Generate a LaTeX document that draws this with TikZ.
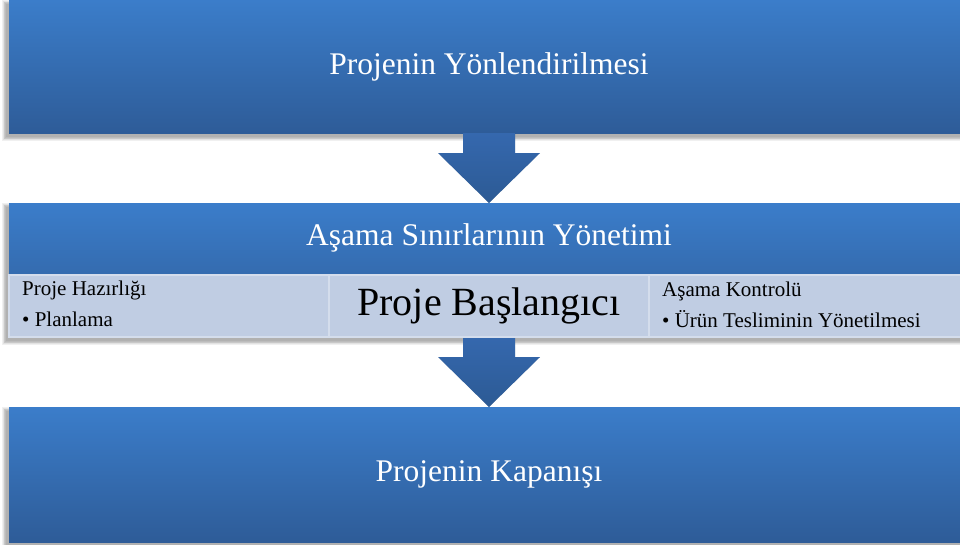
\documentclass[tikz,border=0pt]{standalone}
\usepackage{fontspec}
\setmainfont{Liberation Serif}
\usetikzlibrary{calc}

\definecolor{bandtop}{HTML}{3B7DCA}
\definecolor{bandbot}{HTML}{2E5C98}
\definecolor{arrowtop}{HTML}{3568AE}
\definecolor{arrowbot}{HTML}{2C5A94}
\definecolor{cellfill}{HTML}{C0CDE3}
\definecolor{celledge}{HTML}{D4DDEC}

% soft shadow cast down and to the left of a rectangle (x1,y1)-(x2,y2)
\newcommand\softshade[4]{%
  \foreach \r in {4,3.2,2.4,1.6,0.8,0}{%
    \fill[black,opacity=0.06] ({#1-3-\r},{#2+4-\r}) rectangle ({#3-3+\r},{#4+4+\r});}}

\begin{document}
\begin{tikzpicture}[x=1pt,y=-1pt,
  stagebox/.style={rectangle, inner sep=0pt, outer sep=0pt,
    top color=bandtop, bottom color=bandbot, text=white,
    minimum width=960pt, font=\fontsize{31.5}{36}\selectfont},
  headtext/.style={inner sep=0pt, text=white, font=\fontsize{31.5}{36}\selectfont},
  cellbox/.style={rectangle, inner sep=0pt, outer sep=0pt, fill=cellfill,
    draw=celledge, line width=1.2pt, minimum width=320pt, minimum height=62pt},
  celltext/.style={inner sep=0pt, anchor=base west, text=black,
    font=\fontsize{21}{25}\selectfont},
  blockarrow/.style={top color=arrowtop, bottom color=arrowbot},
  arrowshade/.style={fill=black, opacity=0.07}]
\useasboundingbox (0,0) rectangle (960,544);
\begin{scope}
\clip (0,0) rectangle (960,544);

% shadows under the three stages
\softshade{9}{0}{969}{133}
\softshade{9}{203}{969}{337}
\softshade{9}{407}{969}{542}

% stage boxes
\node[stagebox, minimum height=133pt] (top) at (489,66.5) {Projenin Yönlendirilmesi};
\node[stagebox, minimum height=134pt] (mid) at (489,270) {};
\node[stagebox, minimum height=135pt] (bot) at (489,474.5) {Projenin Kapanışı};

% block arrows between the stages
\foreach \s/\e in {top/mid, mid/bot}{
  \foreach \dx/\dy in {-3/4,-2/3,-1/2}{
    \fill[arrowshade, shift={(\dx,\dy)}]
      ($(\s.south)+(-26,0)$) -- ($(\s.south)+(26,0)$) -- ($(\s.south)+(26,20)$)
      -- ($(\s.south)+(51,20)$) -- (\e.north) -- ($(\s.south)+(-51,20)$)
      -- ($(\s.south)+(-26,20)$) -- cycle;}
  \shade[blockarrow]
    ($(\s.south)+(-26,0)$) -- ($(\s.south)+(26,0)$) -- ($(\s.south)+(26,20)$)
    -- ($(\s.south)+(51,20)$) -- (\e.north) -- ($(\s.south)+(-51,20)$)
    -- ($(\s.south)+(-26,20)$) -- cycle;
}

% middle stage: heading and three cells
\node[headtext] (midhead) at (489,238) {Aşama Sınırlarının Yönetimi};
\node[cellbox] (cellL) at (169,306) {};
\node[cellbox, font=\fontsize{40}{46}\selectfont] (cellM) at (489,306) {Proje Başlangıcı};
\node[cellbox] (cellR) at (809,306) {};

\node[celltext] (prep) at (22,295) {Proje Hazırlığı};
\node[celltext] (plan) at (22,326) {• Planlama};
\node[celltext] (ctrl) at (662,296) {Aşama Kontrolü};
\node[celltext] (deliv) at (662,327) {• Ürün Tesliminin Yönetilmesi};
\end{scope}
\end{tikzpicture}
\end{document}
